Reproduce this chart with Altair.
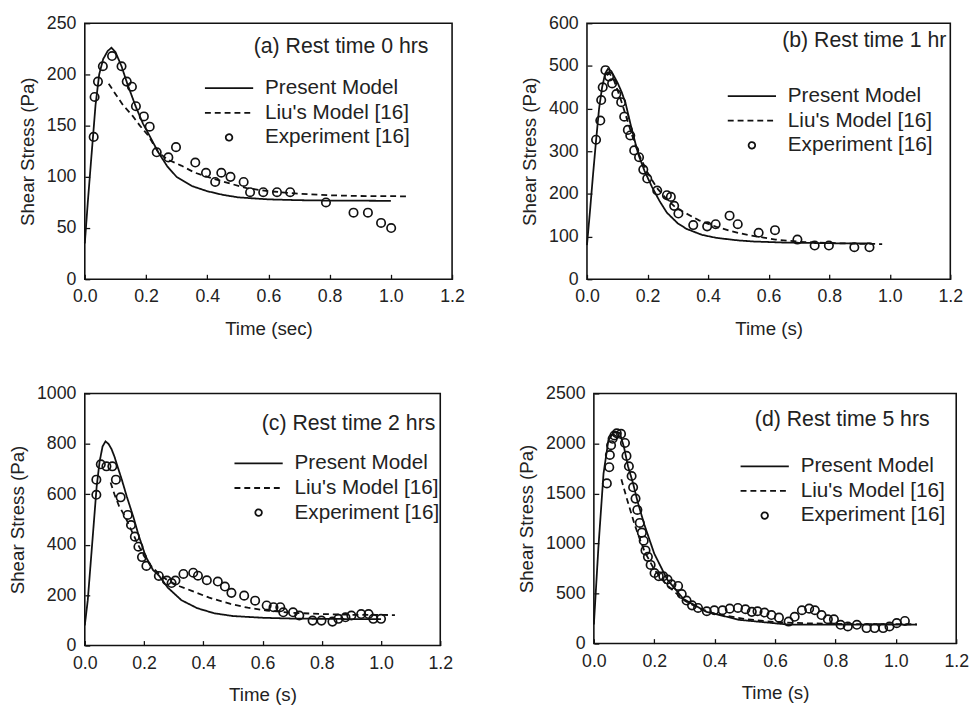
import altair as alt
import pandas as pd

FONT = "Liberation Sans"
INK = "#111111"
TXT = "#222222"
SERIES = ["Present Model", "Liu's Model [16]", "Experiment [16]"]
X_TICKS = [0.0, 0.2, 0.4, 0.6, 0.8, 1.0, 1.2]
CIRCLE = "M-0.135,0A0.135,0.135,0,1,0,0.135,0A0.135,0.135,0,1,0,-0.135,0Z"

# ---------------- panel (a) rest time 0 hrs ----------------
A_EXP_T = [0.029, 0.032, 0.043, 0.059, 0.089, 0.120, 0.137, 0.154, 0.167, 0.193, 0.212, 0.235, 0.273,
           0.298, 0.361, 0.396, 0.426, 0.446, 0.476, 0.519, 0.540, 0.583, 0.628, 0.671, 0.788, 0.878,
           0.925, 0.968, 1.001]
A_EXP_S = [139, 178, 193, 208, 218, 208, 193, 188, 169, 159, 149, 124, 119, 129, 114, 104, 95, 104, 100,
           95, 85, 85, 85, 85, 75, 65, 65, 55, 50]
A_PM_T = [0.0, 0.01, 0.02, 0.027, 0.035, 0.047, 0.06, 0.075, 0.087, 0.1, 0.12, 0.14, 0.166, 0.19, 0.21,
          0.24, 0.27, 0.3, 0.35, 0.4, 0.45, 0.5, 0.6, 0.7, 0.8, 0.9, 1.0]
A_PM_S = [35, 76, 114, 140, 170, 200, 215, 223, 226, 222, 208, 190, 169, 152, 141, 124, 110, 100, 91,
          86, 82.5, 80, 78, 77.2, 76.8, 76.7, 76.6]
A_LIU_T = [0.078, 0.1, 0.125, 0.155, 0.18, 0.208, 0.24, 0.27, 0.315, 0.36, 0.422, 0.48, 0.529, 0.6,
           0.7, 0.8, 0.9, 1.05]
A_LIU_S = [191, 181, 170, 160, 150, 140, 124, 117, 111, 104, 98, 93, 89, 86, 83.5, 82, 81.3, 81]

# ---------------- panel (b) rest time 1 hr ----------------
B_EXP_T = [0.030, 0.044, 0.047, 0.052, 0.061, 0.073, 0.083, 0.097, 0.113, 0.123, 0.135, 0.143, 0.156,
           0.172, 0.186, 0.199, 0.232, 0.264, 0.277, 0.288, 0.302, 0.351, 0.397, 0.425, 0.471, 0.498,
           0.567, 0.621, 0.695, 0.752, 0.799, 0.883, 0.933]
B_EXP_S = [327, 372, 420, 450, 490, 475, 459, 434, 415, 381, 350, 337, 302, 286, 257, 236, 208, 197,
           193, 172, 154, 127, 124, 129, 149, 129, 109, 115, 93, 79, 79, 75, 75]
B_PM_T = [0.0, 0.01, 0.02, 0.03, 0.04, 0.05, 0.06, 0.069, 0.08, 0.09, 0.1, 0.115, 0.128, 0.145, 0.169,
          0.19, 0.215, 0.24, 0.264, 0.3, 0.329, 0.38, 0.427, 0.5, 0.55, 0.65, 0.75, 0.85, 0.93]
B_PM_S = [80, 160, 245, 325, 400, 450, 482, 493, 488, 475, 462, 438, 411, 360, 294, 254, 216, 183, 156,
          131, 118, 104, 97, 91, 88.5, 86, 85, 84, 84]
B_LIU_T = [0.065, 0.075, 0.09, 0.11, 0.13, 0.15, 0.17, 0.2, 0.23, 0.26, 0.29, 0.318, 0.37, 0.427, 0.48,
           0.536, 0.623, 0.7, 0.8, 0.9, 0.975]
B_LIU_S = [478, 482, 465, 425, 380, 335, 295, 250, 215, 190, 170, 158, 138, 123, 112, 103, 93, 88, 85,
           83, 82.5]

# ---------------- panel (c) rest time 2 hrs ----------------
C_EXP_T = [0.039, 0.039, 0.054, 0.073, 0.093, 0.105, 0.121, 0.145, 0.156, 0.169, 0.181, 0.193, 0.208,
           0.250, 0.277, 0.293, 0.306, 0.333, 0.366, 0.382, 0.412, 0.449, 0.473, 0.495, 0.538, 0.575,
           0.614, 0.637, 0.660, 0.670, 0.703, 0.724, 0.769, 0.799, 0.836, 0.856, 0.880, 0.900, 0.933,
           0.958, 0.974, 1.000]
C_EXP_S = [598, 658, 719, 711, 711, 658, 588, 518, 478, 432, 392, 351, 316, 276, 258, 248, 258, 284,
           289, 277, 259, 254, 234, 209, 198, 178, 159, 152, 152, 132, 132, 119, 99, 99, 95, 106, 112,
           119, 125, 125, 106, 106]
C_PM_T = [0.0, 0.01, 0.02, 0.03, 0.04, 0.05, 0.06, 0.07, 0.08, 0.09, 0.1, 0.112, 0.125, 0.142, 0.164,
          0.181, 0.205, 0.23, 0.25, 0.28, 0.326, 0.38, 0.437, 0.5, 0.603, 0.7, 0.8, 0.9, 1.0]
C_PM_S = [80, 180, 330, 480, 630, 730, 790, 810, 800, 780, 750, 705, 658, 590, 510, 440, 355, 300, 278,
          230, 180, 148, 128, 117, 110, 107, 106, 105, 105]
C_LIU_T = [0.087, 0.1, 0.115, 0.137, 0.16, 0.18, 0.2, 0.22, 0.25, 0.28, 0.32, 0.359, 0.42, 0.492, 0.55,
           0.614, 0.7, 0.8, 0.9, 1.047]
C_LIU_S = [647, 600, 555, 509, 450, 400, 355, 320, 285, 258, 235, 218, 190, 165, 150, 139, 130, 125,
           122, 121]

# ---------------- panel (d) rest time 5 hrs ----------------
D_EXP_T = [0.043, 0.051, 0.053, 0.057, 0.062, 0.068, 0.076, 0.090, 0.103, 0.108, 0.116, 0.125, 0.130,
           0.138, 0.144, 0.152, 0.159, 0.165, 0.171, 0.179, 0.188, 0.201, 0.215, 0.230, 0.244, 0.257,
           0.279, 0.291, 0.307, 0.325, 0.345, 0.374, 0.399, 0.426, 0.450, 0.477, 0.502, 0.523, 0.542,
           0.565, 0.588, 0.613, 0.645, 0.665, 0.689, 0.713, 0.732, 0.754, 0.775, 0.795, 0.817, 0.841,
           0.871, 0.903, 0.930, 0.958, 0.979, 1.003, 1.030]
D_EXP_S = [1601, 1763, 1885, 1983, 2047, 2080, 2102, 2096, 2005, 1876, 1772, 1675, 1562, 1449, 1336,
           1206, 1109, 1028, 931, 867, 786, 705, 673, 673, 640, 592, 576, 495, 430, 382, 356, 323, 333,
           333, 349, 356, 343, 317, 323, 310, 285, 259, 220, 268, 333, 349, 333, 285, 243, 243, 188,
           171, 188, 155, 155, 155, 171, 204, 226]
D_PM_T = [0.0, 0.015, 0.032, 0.048, 0.064, 0.075, 0.086, 0.1, 0.113, 0.129, 0.145, 0.167, 0.2, 0.243,
          0.297, 0.373, 0.482, 0.644, 0.8, 0.95, 1.07]
D_PM_S = [190, 960, 1700, 2030, 2105, 2112, 2105, 1960, 1773, 1611, 1417, 1190, 899, 640, 446, 317, 237,
          190, 190, 190, 190]
D_LIU_T = [0.091, 0.11, 0.134, 0.15, 0.168, 0.2, 0.24, 0.3, 0.35, 0.4, 0.5, 0.6, 0.7, 0.8, 0.9, 1.07]
D_LIU_S = [1643, 1440, 1200, 1060, 920, 740, 590, 430, 350, 300, 245, 215, 203, 197, 194, 193]


def panel(pm_t, pm_s, liu_t, liu_s, ex_t, ex_s, y_ticks, x_title, note,
          w, h, lx, ly, ndx, ndy):
    lines = pd.DataFrame({
        "t": pm_t + liu_t,
        "s": pm_s + liu_s,
        "series": [SERIES[0]] * len(pm_t) + [SERIES[1]] * len(liu_t),
    })
    pts = pd.DataFrame({"t": ex_t, "s": ex_s, "series": [SERIES[2]] * len(ex_t)})
    legend = alt.Legend(title=None, orient="none", legendX=lx, legendY=ly)
    x = alt.X("t:Q", title=x_title,
              scale=alt.Scale(domain=[0, 1.2], nice=False, zero=False),
              axis=alt.Axis(values=X_TICKS, format=".1f", grid=True, labelFlush=False,
                            gridDash=[5, h - 5], gridDashOffset=5))
    y = alt.Y("s:Q", title="Shear Stress (Pa)",
              scale=alt.Scale(domain=[0, y_ticks[-1]], nice=False),
              axis=alt.Axis(values=y_ticks, format="d", grid=True, labelFlush=False,
                            gridDash=[5, 4000]))
    dash = alt.StrokeDash("series:N",
                          scale=alt.Scale(domain=SERIES, range=[[1, 0], [6, 4], [1, 0]]),
                          legend=legend)
    shape = alt.Shape("series:N",
                      scale=alt.Scale(domain=SERIES, range=["stroke", "stroke", CIRCLE]),
                      legend=legend)
    line_layer = alt.Chart(lines).mark_line(color=INK, strokeWidth=1.8).encode(
        x=x, y=y, strokeDash=dash)
    pt_layer = alt.Chart(pts).mark_point(color=INK, filled=False, strokeWidth=1.7,
                                         size=4000, opacity=1).encode(x=x, y=y, shape=shape)
    return alt.layer(line_layer, pt_layer).properties(
        width=w, height=h,
        title=alt.TitleParams(text=note, orient="top", anchor="end", frame="group",
                              offset=-(ndy + 9), dx=ndx, dy=20, baseline="middle",
                              fontSize=21.6, fontWeight="normal", font=FONT, color=TXT),
    )


pa = panel(A_PM_T, A_PM_S, A_LIU_T, A_LIU_S, A_EXP_T, A_EXP_S, [0, 50, 100, 150, 200, 250],
           "Time (sec)", "(a) Rest time 0 hrs", 373, 260, 121, 56, -24, 26)
pb = panel(B_PM_T, B_PM_S, B_LIU_T, B_LIU_S, B_EXP_T, B_EXP_S, [0, 100, 200, 300, 400, 500, 600],
           "Time (s)", "(b) Rest time 1 hr", 369, 260, 142, 64, -4, 20)
pc = panel(C_PM_T, C_PM_S, C_LIU_T, C_LIU_S, C_EXP_T, C_EXP_S, [0, 200, 400, 600, 800, 1000],
           "Time (s)", "(c) Rest time 2 hrs", 361, 256, 151, 61, -5, 33)
pd_ = panel(D_PM_T, D_PM_S, D_LIU_T, D_LIU_S, D_EXP_T, D_EXP_S, [0, 500, 1000, 1500, 2000, 2500],
            "Time (s)", "(d) Rest time 5 hrs", 368, 254, 148, 64, -27, 29)

top = alt.hconcat(pa, pb, spacing=55).resolve_scale(shape="independent", strokeDash="independent")
bottom = alt.hconcat(pc, pd_, spacing=64).resolve_scale(shape="independent", strokeDash="independent")

chart = (
    alt.vconcat(top, bottom, spacing=45)
    .resolve_scale(shape="independent", strokeDash="independent")
    .properties(padding={"left": 0, "top": 0, "right": 0, "bottom": 0})
    .configure_view(stroke=INK, strokeWidth=1.6)
    .configure_axis(labelFont=FONT, labelFontSize=18, labelColor=TXT, labelPadding=9,
                    titleFont=FONT, titleFontSize=19, titleFontWeight="normal", titleColor=TXT,
                    domain=False, ticks=False,
                    gridColor=INK, gridWidth=1.3, gridOpacity=1)
    .configure_axisX(titlePadding=14)
    .configure_axisY(titlePadding=9)
    .configure_legend(labelFont=FONT, labelFontSize=21, labelColor=TXT, padding=0,
                      clipHeight=20, rowPadding=4, symbolSize=2401, symbolStrokeWidth=1.8,
                      symbolStrokeColor=INK, symbolFillColor="transparent", symbolOpacity=1,
                      labelOffset=11)
)

chart.save("out.html", embed_options={"renderer": "svg", "actions": False})
